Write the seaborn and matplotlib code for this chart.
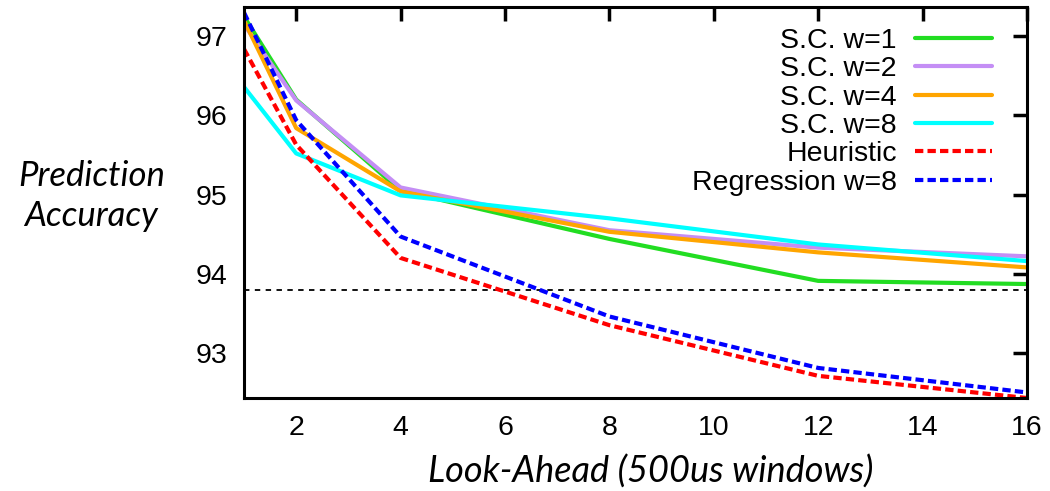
import pandas as pd
import matplotlib
matplotlib.use("Agg")
import matplotlib.pyplot as plt
import seaborn as sns

# --- Dados ---
look_ahead = [1, 2, 4, 8, 12, 16]
sc_w1 = [97.25, 96.2, 95.05, 94.44, 93.91, 93.87]
sc_w2 = [97.15, 96.19, 95.09, 94.55, 94.33, 94.22]
sc_w4 = [97.2, 95.84, 95.04, 94.53, 94.27, 94.08]
sc_w8 = [96.36, 95.52, 94.99, 94.7, 94.37, 94.16]
heuristic = [96.84, 95.63, 94.2, 93.35, 92.71, 92.43]
regression_w8 = [97.3, 95.94, 94.47, 93.46, 92.81, 92.5]
baseline = 93.8

series_names = ["S.C. w=1", "S.C. w=2", "S.C. w=4", "S.C. w=8", "Heuristic", "Regression w=8"]
series_values = [sc_w1, sc_w2, sc_w4, sc_w8, heuristic, regression_w8]
series_colors = ["#22dd22", "#c48ef5", "#ffa500", "#00ffff", "#ff0000", "#0000ff"]
series_dashes = ["", "", "", "", (2, 1), (2, 1)]

x_ticks = [2, 4, 6, 8, 10, 12, 14, 16]
y_ticks = [93, 94, 95, 96, 97]

# --- Montar DataFrame longo ---
rows = []
for name, vals in zip(series_names, series_values):
    for x, v in zip(look_ahead, vals):
        rows.append({"look_ahead": x, "accuracy": v, "serie": name})
df = pd.DataFrame(rows)

sns.set_style("white")
plt.rcParams["font.family"] = ["Liberation Sans", "DejaVu Sans"]
plt.rcParams["text.color"] = "black"
plt.rcParams["xtick.color"] = "black"
plt.rcParams["ytick.color"] = "black"

label_font = ["Lato", "Open Sans", "DejaVu Sans"]

fig = plt.figure(figsize=(10.5, 4.91), dpi=100)
ax = fig.add_axes([0.2324, 0.1894, 0.7456, 0.7963])

sns.lineplot(
    data=df, x="look_ahead", y="accuracy", hue="serie", style="serie",
    hue_order=series_names, style_order=series_names,
    palette=dict(zip(series_names, series_colors)),
    dashes=dict(zip(series_names, series_dashes)),
    linewidth=3, ax=ax, legend=False,
)
ax.axhline(baseline, color="black", lw=1.3, ls=(0, (3, 3)), zorder=1)

ax.set_xlim(1, 16)
ax.set_ylim(92.43, 97.37)
ax.set_xticks(x_ticks)
ax.set_yticks(y_ticks)
ax.tick_params(axis="both", direction="in", length=10, width=2.5,
               labelsize=20.5, top=True, right=True, pad=12,
               colors="black")
for s in ax.spines.values():
    s.set_linewidth(2.2)
    s.set_color("black")

ax.set_xlabel("Look-Ahead (500us windows)", fontsize=26, style="italic",
              family=label_font, labelpad=10, color="black")
ax.xaxis.label.set_x(0.519)
ax.set_ylabel("")
fig.text(0.087, 0.60, "Prediction\nAccuracy", fontsize=25, style="italic",
         family=label_font, ha="center", va="center",
         linespacing=1.3, color="black")

# Legenda estilo gnuplot (texto à esquerda, linha à direita)
handles = []
for c, d in zip(series_colors, series_dashes):
    h = plt.Line2D([], [], color=c, lw=3)
    if d:
        h.set_dashes(d)
    handles.append(h)
leg = ax.legend(handles, series_names, loc="upper right", frameon=False,
                markerfirst=False, fontsize=20.5, handlelength=2.7,
                handletextpad=0.65, labelspacing=0.08,
                bbox_to_anchor=(0.97, 0.975), borderaxespad=0)
for t in leg.get_texts():
    t.set_ha("right")
    t.set_color("black")

fig.savefig("out.png", dpi=100)
